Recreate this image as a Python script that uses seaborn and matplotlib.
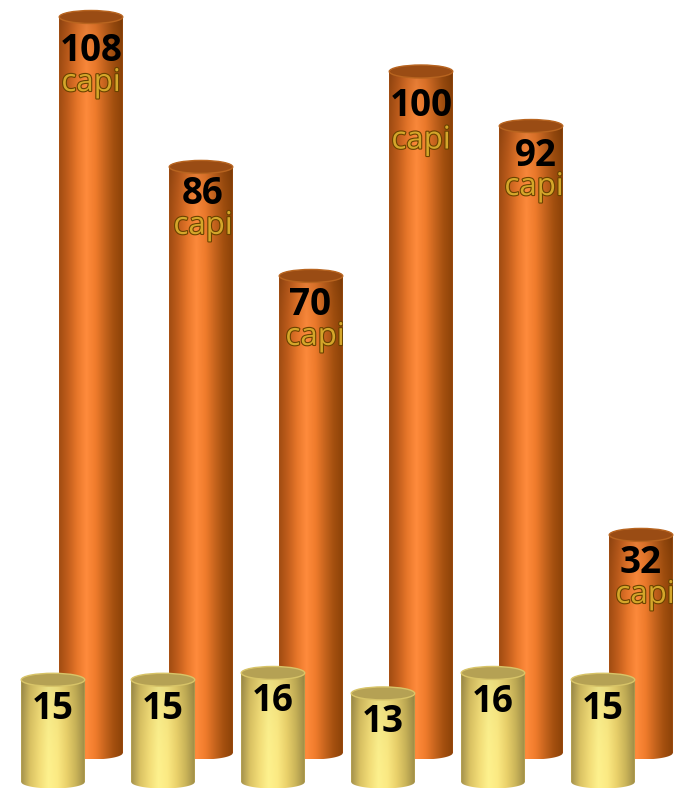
import numpy as np
import pandas as pd
import seaborn as sns
import matplotlib.pyplot as plt
import matplotlib.patheffects as pe
from matplotlib.colors import LinearSegmentedColormap
from matplotlib.patches import Ellipse, Polygon

groups = ["1", "2", "3", "4", "5", "6"]
tall_values = [108, 86, 70, 100, 92, 32]
short_values = [15, 15, 16, 13, 16, 15]
tall_unit = "capi"

W, H = 674, 790
PX_PER_UNIT = 6.815
PITCH = 110
BAR_W = 63.5 / PITCH
RY_PX = 6.5

# nudges in pixels from the top of each bar
TALL_LABEL_DX = [0, 2, -1, 0, 5, 0]
TALL_LABEL_DY = [-34, -27, -29, -34, -30, -28]
UNIT_DX = [0, 2, 4, 0, 3, 4]
UNIT_DY = [-66, -59, -61, -69, -61, -60]
SHORT_LABEL_DY = [-29, -29, -28, -29, -29, -29]

ORANGE_STOPS = ["#a04c12", "#c25e1c", "#e8772a", "#ff8b3c", "#f07c2c", "#c8651e", "#a4500f", "#8c4208"]
YELLOW_STOPS = ["#a3914c", "#dcc464", "#f4de78", "#fff38f", "#fdeb84", "#ecd36c", "#ccb65a", "#a08e48"]


def paint_cylinder(ax, patch, stops, cap_face, cap_edge, fade, fade_px):
    x0, w, h = patch.get_x(), patch.get_width(), patch.get_height()
    cx = x0 + w / 2
    ry = RY_PX / PX_PER_UNIT
    cmap = LinearSegmentedColormap.from_list("cyl", stops)
    rgb = cmap(np.linspace(0, 1, 256))[:, :3]
    depth_px = np.linspace(0, (h + ry) * PX_PER_UNIT, 300)
    shade = 1 - fade * np.exp(-depth_px / fade_px)
    grad = shade[:, None, None] * rgb[None, :, :]
    im = ax.imshow(grad, extent=(x0, x0 + w, -ry, h), origin="upper",
                   aspect="auto", zorder=2, interpolation="bilinear")
    theta = np.linspace(np.pi, 2 * np.pi, 60)
    outline = np.column_stack([cx + w / 2 * np.cos(theta), ry * np.sin(theta)])
    outline = np.vstack([outline, [x0 + w, h], [x0, h]])
    im.set_clip_path(Polygon(outline, closed=True, transform=ax.transData))
    ax.add_patch(Ellipse((cx, h), w, 2 * ry, facecolor=cap_face,
                         edgecolor=cap_edge, linewidth=1.0, zorder=3))


def make_axes(fig, x_first, baseline):
    ax = fig.add_axes([0, 0, 1, 1])
    ax.patch.set_alpha(0)
    return ax, (-x_first / PITCH, (W - x_first) / PITCH), \
        ((baseline - H) / PX_PER_UNIT, baseline / PX_PER_UNIT)


def main():
    sns.set_theme(style="white")
    plt.rcParams["font.family"] = ["Open Sans", "DejaVu Sans"]

    fig = plt.figure(figsize=(W / 100, H / 100), dpi=100)
    df = pd.DataFrame({"group": groups, "tall": tall_values, "short": short_values})

    ax_back, xlim, ylim = make_axes(fig, 91, 753)
    sns.barplot(data=df, x="group", y="tall", ax=ax_back, width=BAR_W,
                color="#c0601a", saturation=1, zorder=1, linewidth=0)
    for i, p in enumerate(ax_back.containers[0]):
        paint_cylinder(ax_back, p, ORANGE_STOPS, "#9a4c14", "#b8641f", 0.14, 30)
        val = tall_values[i]
        ax_back.annotate(str(val), (i, val), xytext=(TALL_LABEL_DX[i], TALL_LABEL_DY[i]),
                         textcoords="offset pixels", ha="center", va="center",
                         fontsize=26.5, fontweight="bold", color="black", zorder=5)
        unit = ax_back.annotate(tall_unit, (i, val), xytext=(UNIT_DX[i], UNIT_DY[i]),
                                textcoords="offset pixels", ha="center", va="center",
                                fontsize=22.5, color="#d4a62a", zorder=4,
                                path_effects=[pe.withStroke(linewidth=1.6, foreground="#6b4300")])
        unit.set_clip_path(p)
    ax_back.set_xlim(*xlim)
    ax_back.set_ylim(*ylim)
    ax_back.set_axis_off()

    ax_front, xlim, ylim = make_axes(fig, 53, 782)
    sns.barplot(data=df, x="group", y="short", ax=ax_front, width=BAR_W,
                color="#e6cd68", saturation=1, zorder=1, linewidth=0)
    for i, p in enumerate(ax_front.containers[0]):
        paint_cylinder(ax_front, p, YELLOW_STOPS, "#b5a154", "#d8c468", 0.10, 35)
        val = short_values[i]
        ax_front.annotate(str(val), (i, val), xytext=(0, SHORT_LABEL_DY[i]),
                          textcoords="offset pixels", ha="center", va="center",
                          fontsize=26.5, fontweight="bold", color="black", zorder=5)
    ax_front.set_xlim(*xlim)
    ax_front.set_ylim(*ylim)
    ax_front.set_axis_off()

    fig.savefig("out.png", dpi=100)


if __name__ == "__main__":
    main()
